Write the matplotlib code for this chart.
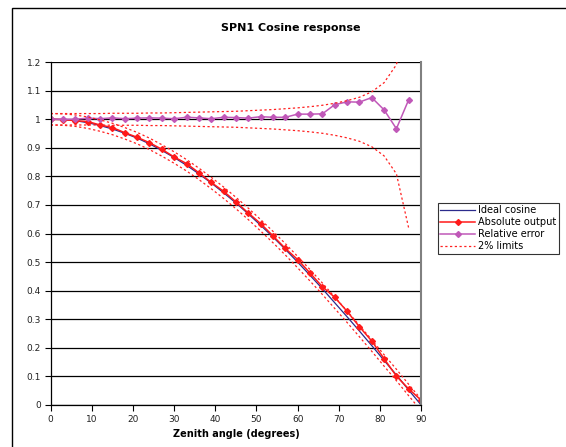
import numpy as np
import matplotlib.pyplot as plt
from matplotlib.patches import Rectangle

# Datos
angle = [0, 3, 6, 9, 12, 15, 18, 21, 24, 27, 30, 33, 36, 39, 42, 45,
         48, 51, 54, 57, 60, 63, 66, 69, 72, 75, 78, 81, 84, 87, 90]

ideal_cosine = [1.000, 0.999, 0.995, 0.988, 0.978, 0.966, 0.951, 0.934, 0.914,
                0.891, 0.866, 0.839, 0.809, 0.777, 0.743, 0.707, 0.669, 0.629,
                0.588, 0.545, 0.500, 0.454, 0.407, 0.358, 0.309, 0.259, 0.208,
                0.156, 0.105, 0.052, 0.000]

absolute_output = [1.000, 0.999, 0.995, 0.992, 0.980, 0.971, 0.953, 0.937, 0.918,
                   0.895, 0.868, 0.845, 0.813, 0.779, 0.748, 0.711, 0.672, 0.635,
                   0.592, 0.548, 0.509, 0.462, 0.414, 0.377, 0.328, 0.274, 0.224,
                   0.162, 0.101, 0.056, 0.017]

# el error relativo no tiene punto en 90
rel_angle = angle[:-1]
relative_error = [1.000, 1.000, 1.000, 1.004, 1.002, 1.005, 1.002, 1.004, 1.005,
                  1.004, 1.002, 1.007, 1.005, 1.002, 1.007, 1.006, 1.004, 1.009,
                  1.007, 1.007, 1.018, 1.018, 1.019, 1.051, 1.061, 1.060, 1.076,
                  1.033, 0.967, 1.069]

# limites del 2% (absolutos y relativos)
abs_upper = [1.020, 1.019, 1.015, 1.008, 0.998, 0.986, 0.971, 0.954, 0.934,
             0.911, 0.886, 0.859, 0.829, 0.797, 0.763, 0.727, 0.689, 0.649,
             0.608, 0.565, 0.520, 0.474, 0.427, 0.378, 0.329, 0.279, 0.228,
             0.176, 0.125, 0.072, 0.020]
abs_lower = [0.980, 0.979, 0.975, 0.968, 0.958, 0.946, 0.931, 0.914, 0.894,
             0.871, 0.846, 0.819, 0.789, 0.757, 0.723, 0.687, 0.649, 0.609,
             0.568, 0.525, 0.480, 0.434, 0.387, 0.338, 0.289, 0.239, 0.188,
             0.136, 0.085, 0.032, -0.020]
rel_upper = [1.020, 1.020, 1.020, 1.020, 1.020, 1.021, 1.021, 1.021, 1.022,
             1.022, 1.023, 1.024, 1.025, 1.026, 1.027, 1.028, 1.030, 1.032,
             1.034, 1.037, 1.040, 1.044, 1.049, 1.056, 1.065, 1.077, 1.096,
             1.128, 1.191, 1.382]
rel_lower = [0.980, 0.980, 0.980, 0.980, 0.980, 0.979, 0.979, 0.979, 0.978,
             0.978, 0.977, 0.976, 0.975, 0.974, 0.973, 0.972, 0.970, 0.968,
             0.966, 0.963, 0.960, 0.956, 0.951, 0.944, 0.935, 0.923, 0.904,
             0.872, 0.809, 0.618]

plt.rcParams['font.family'] = ['DejaVu Sans']

fig = plt.figure(figsize=(5.66, 4.47), dpi=100)
ax = fig.add_axes([0.0896, 0.094, 0.6544, 0.767])

# borde exterior del grafico
fig.patches.append(Rectangle((12 / 566, -0.1), 1.2, 1 - 8 / 447 + 0.1,
                             transform=fig.transFigure, fill=False,
                             edgecolor='black', linewidth=1.0))

ax.plot(angle, ideal_cosine, color='#2b2b8c', linewidth=0.9, label='Ideal cosine')
ax.plot(angle, absolute_output, color='#ff1a1a', linewidth=1.1, marker='D',
        markersize=3, label='Absolute output')
ax.plot(rel_angle, relative_error, color='#c058b8', linewidth=1.1, marker='D',
        markersize=3, label='Relative error')

dots = dict(color='#ff2020', linewidth=0.9, linestyle=(0, (1.8, 2.0)))
ax.plot(angle, abs_upper, label='2% limits', **dots)
ax.plot(angle, abs_lower, **dots)
ax.plot(rel_angle, rel_upper, **dots)
ax.plot(rel_angle, rel_lower, **dots)

ax.set_xlim(0, 90)
ax.set_ylim(0, 1.2)
ax.set_xticks(np.arange(0, 91, 10))
yt = np.round(np.arange(0, 1.21, 0.1), 1)
ax.set_yticks(yt)
ax.set_yticklabels(['%g' % v for v in yt])
ax.yaxis.grid(True, color='black', linewidth=0.9)
ax.set_axisbelow(True)
ax.tick_params(labelsize=6.5, length=4, width=0.8, direction='out', pad=3,
               labelcolor='#222222')

ax.spines['top'].set_visible(False)
ax.spines['right'].set_color('#808080')
ax.spines['right'].set_linewidth(1.5)
ax.spines['left'].set_linewidth(0.9)
ax.spines['bottom'].set_linewidth(0.9)

ax.set_xlabel('Zenith angle (degrees)', fontsize=7, fontweight='bold', labelpad=4)
fig.text(291 / 566, 1 - 28 / 447, 'SPN1 Cosine response', fontsize=8,
         fontweight='bold', ha='center', va='center')

leg = fig.legend(loc='upper left', bbox_to_anchor=(438 / 566, 1 - 203 / 447),
                 fontsize=7, frameon=True, fancybox=False, handlelength=3.6,
                 handletextpad=0.25, borderpad=0.25, labelspacing=0.2,
                 borderaxespad=0)
leg.get_frame().set_edgecolor('black')
leg.get_frame().set_linewidth(0.8)

plt.savefig('out.png', dpi=100)
